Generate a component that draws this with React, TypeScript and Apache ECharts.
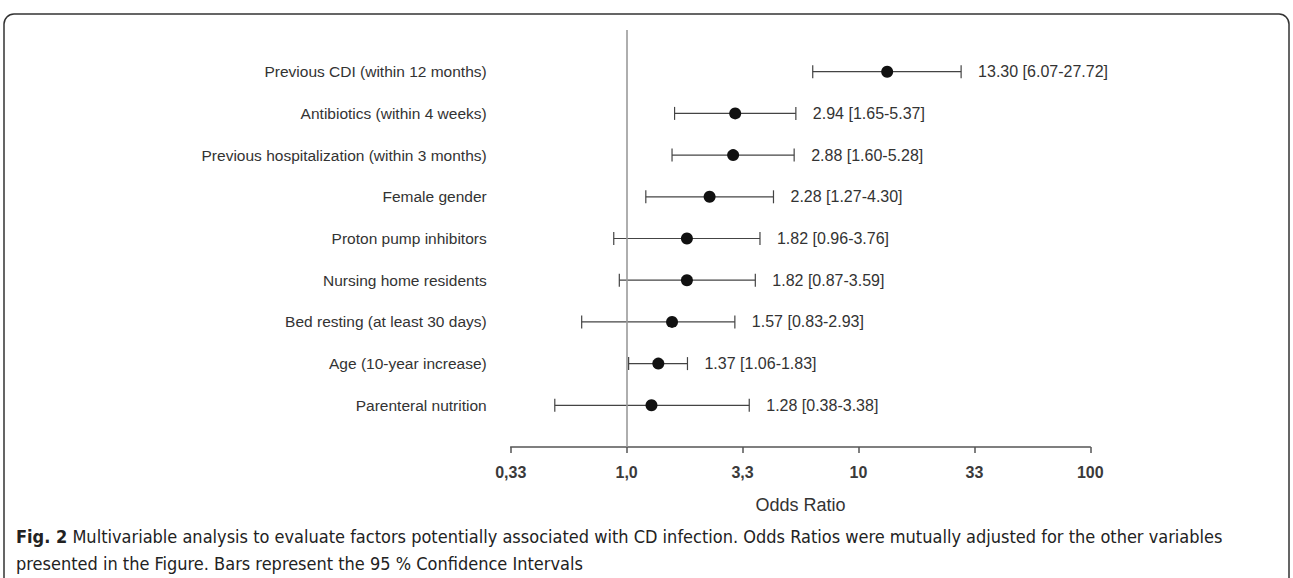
import React, { useEffect, useRef } from "react";
import * as echarts from "echarts";

const categories = [
  "Previous CDI (within 12 months)",
  "Antibiotics (within 4 weeks)",
  "Previous hospitalization (within 3 months)",
  "Female gender",
  "Proton pump inhibitors",
  "Nursing home residents",
  "Bed resting (at least 30 days)",
  "Age (10-year increase)",
  "Parenteral nutrition",
];
const oddsRatio = [13.3, 2.94, 2.88, 2.28, 1.82, 1.82, 1.57, 1.37, 1.28];
// CI bounds as drawn in the figure
const ciLower = [6.35, 1.61, 1.57, 1.21, 0.88, 0.93, 0.64, 1.02, 0.49];
const ciUpper = [27.72, 5.37, 5.28, 4.3, 3.76, 3.59, 2.93, 1.83, 3.38];
const estimateLabels = [
  "13.30 [6.07-27.72]",
  "2.94 [1.65-5.37]",
  "2.88 [1.60-5.28]",
  "2.28 [1.27-4.30]",
  "1.82 [0.96-3.76]",
  "1.82 [0.87-3.59]",
  "1.57 [0.83-2.93]",
  "1.37 [1.06-1.83]",
  "1.28 [0.38-3.38]",
];
const tickLabels = ["0,33", "1,0", "3,3", "10", "33", "100"];
const axisTitle = "Odds Ratio";
const captionBold = "Fig. 2";
const captionLine1 =
  " Multivariable analysis to evaluate factors potentially associated with CD infection. Odds Ratios were mutually adjusted for the other variables";
const captionLine2 = "presented in the Figure. Bars represent the 95 % Confidence Intervals";

const FONT = "'Liberation Sans', Arial, sans-serif";
const CAPTION_FONT = "'Liberation Sans Narrow', 'DejaVu Sans Condensed', 'Liberation Sans', sans-serif";

export default function App() {
  const ref = useRef<HTMLDivElement>(null);
  useEffect(() => {
    document.body.style.margin = "0";
    if (!ref.current) return;
    const chart = echarts.init(ref.current, null, { renderer: "svg" });
    const option: any = {
      animation: false,
      backgroundColor: "#ffffff",
      grid: { left: 510.7, right: 202.7, top: 30, bottom: 131, containLabel: false },
      xAxis: {
        type: "value",
        min: -0.5,
        max: 2,
        interval: 0.5,
        name: axisTitle,
        nameLocation: "middle",
        nameGap: 49,
        nameTextStyle: { fontFamily: FONT, fontSize: 18, color: "#333" },
        axisLine: { show: true, onZero: false, lineStyle: { color: "#555", width: 1.5 } },
        axisTick: { show: true, length: 6, lineStyle: { color: "#555", width: 1.5 } },
        splitLine: { show: false },
        axisLabel: {
          margin: 17,
          fontFamily: FONT,
          fontSize: 16,
          fontWeight: "bold",
          color: "#3a3a3a",
          formatter: (v: number) => tickLabels[Math.round((v + 0.5) / 0.5)] ?? "",
        },
      },
      yAxis: {
        type: "value",
        inverse: true,
        min: -1,
        max: 9,
        interval: 1,
        axisLine: { show: false },
        axisTick: { show: false },
        splitLine: { show: false },
        axisLabel: {
          margin: 24,
          fontFamily: FONT,
          fontSize: 15.5,
          color: "#333",
          formatter: (v: number) => categories[v] ?? "",
        },
      },
      series: [
        {
          type: "custom",
          data: categories.map((_, i) => [Math.log10(ciLower[i]), Math.log10(ciUpper[i]), i]),
          encode: { x: [0, 1], y: 2 },
          renderItem: (params: any, api: any) => {
            const p1 = api.coord([api.value(0), api.value(2)]);
            const p2 = api.coord([api.value(1), api.value(2)]);
            const cap = 6.5;
            const st = { stroke: "#444", lineWidth: 1.2 };
            return {
              type: "group",
              children: [
                { type: "line", shape: { x1: p1[0], y1: p1[1], x2: p2[0], y2: p2[1] }, style: st },
                { type: "line", shape: { x1: p1[0], y1: p1[1] - cap, x2: p1[0], y2: p1[1] + cap }, style: st },
                { type: "line", shape: { x1: p2[0], y1: p2[1] - cap, x2: p2[0], y2: p2[1] + cap }, style: st },
                {
                  type: "text",
                  x: p2[0] + 17,
                  y: p2[1],
                  style: {
                    text: estimateLabels[params.dataIndex],
                    fontFamily: FONT,
                    fontSize: 16,
                    fill: "#333",
                    verticalAlign: "middle",
                    align: "left",
                  },
                },
              ],
            };
          },
          z: 2,
        },
        {
          type: "scatter",
          data: categories.map((_, i) => [Math.log10(oddsRatio[i]), i]),
          symbol: "circle",
          symbolSize: 12,
          itemStyle: { color: "#111", opacity: 1 },
          z: 3,
          markLine: {
            silent: true,
            symbol: "none",
            label: { show: false },
            lineStyle: { color: "#9a9a9a", width: 1.6, type: "solid" },
            data: [{ xAxis: 0 }],
          },
        },
      ],
      graphic: [
        {
          type: "rect",
          shape: { x: 4, y: 14, width: 1285, height: 700, r: 10 },
          style: { fill: "none", stroke: "#333", lineWidth: 1.5 },
        },
        {
          type: "text",
          x: 16,
          y: 536,
          style: {
            text: "{b|" + captionBold + "}" + captionLine1,
            fontFamily: CAPTION_FONT,
            fontSize: 18,
            fill: "#222",
            verticalAlign: "middle",
            rich: {
              b: { fontFamily: CAPTION_FONT, fontSize: 18, fontWeight: "bold", fill: "#222" },
            },
          },
        },
        {
          type: "text",
          x: 16,
          y: 563,
          style: {
            text: captionLine2,
            fontFamily: CAPTION_FONT,
            fontSize: 18,
            fill: "#222",
            verticalAlign: "middle",
          },
        },
      ],
    };
    chart.setOption(option);
    return () => chart.dispose();
  }, []);
  return <div ref={ref} style={{ width: 1293, height: 578 }} />;
}
